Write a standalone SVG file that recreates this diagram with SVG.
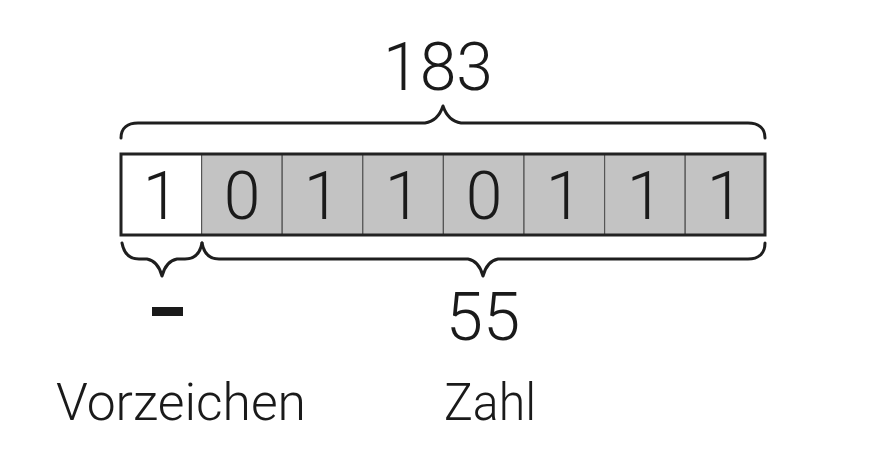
<svg xmlns="http://www.w3.org/2000/svg" width="869" height="457" viewBox="0 0 869 457">
<style>
.t{font-family:Roboto,"Liberation Sans",sans-serif;font-weight:300;fill:#1a1a1a}
.cell{stroke:#555;stroke-width:1.2}
.w{fill:#fff}
.g{fill:#c3c3c3}
.brace{fill:none;stroke:#1e1e1e;stroke-width:3;stroke-linejoin:round;stroke-linecap:round}
</style>
<rect width="869" height="457" fill="#fff"/>
<g id="register">
<rect class="cell w" x="121" y="154" width="80.6" height="81"/>
<rect class="cell g" x="201.6" y="154" width="80.6" height="81"/>
<rect class="cell g" x="282.2" y="154" width="80.6" height="81"/>
<rect class="cell g" x="362.8" y="154" width="80.6" height="81"/>
<rect class="cell g" x="443.4" y="154" width="80.6" height="81"/>
<rect class="cell g" x="524" y="154" width="80.6" height="81"/>
<rect class="cell g" x="604.6" y="154" width="80.6" height="81"/>
<rect class="cell g" x="685.2" y="154" width="79.8" height="81"/>
<rect x="121" y="154" width="644" height="81" fill="none" stroke="#222" stroke-width="3"/>
<g class="t" font-size="66" text-anchor="middle">
<text x="161" y="219">1</text>
<text x="242" y="219">0</text>
<text x="322" y="219">1</text>
<text x="403" y="219">1</text>
<text x="484" y="219">0</text>
<text x="564" y="219">1</text>
<text x="645" y="219">1</text>
<text x="725" y="219">1</text>
</g>
</g>
<g id="connectors">
<path class="brace" d="M121,138 C121,128 128,123 138,123 L425,123 Q438,121 443,106 Q448,121 461,123 L748,123 C758,123 765,128 765,138"/>
<path class="brace" d="M122,243 C124,254 130,259 139,259 L147,259 Q158,261 162,276 Q166,261 177,259 L185,259 C194,259 200,254 202,243"/>
<path class="brace" d="M202,243 C204,254 210,259 219,259 L468,259 Q479,261 483,276 Q487,261 498,259 L748,259 C758,259 765,254 765,243"/>
</g>
<g id="label-183"><text class="t" x="438" y="90" font-size="66" text-anchor="middle">183</text></g>
<g id="label-55"><text class="t" x="483" y="340" font-size="67" text-anchor="middle">55</text></g>
<g id="minus"><rect x="152" y="307" width="31" height="9" fill="#1a1a1a"/></g>
<g id="label-vorzeichen"><text class="t" x="56" y="420" font-size="52" textLength="250" lengthAdjust="spacingAndGlyphs">Vorzeichen</text></g>
<g id="label-zahl"><text class="t" x="444" y="420" font-size="52" textLength="92" lengthAdjust="spacingAndGlyphs">Zahl</text></g>
</svg>
